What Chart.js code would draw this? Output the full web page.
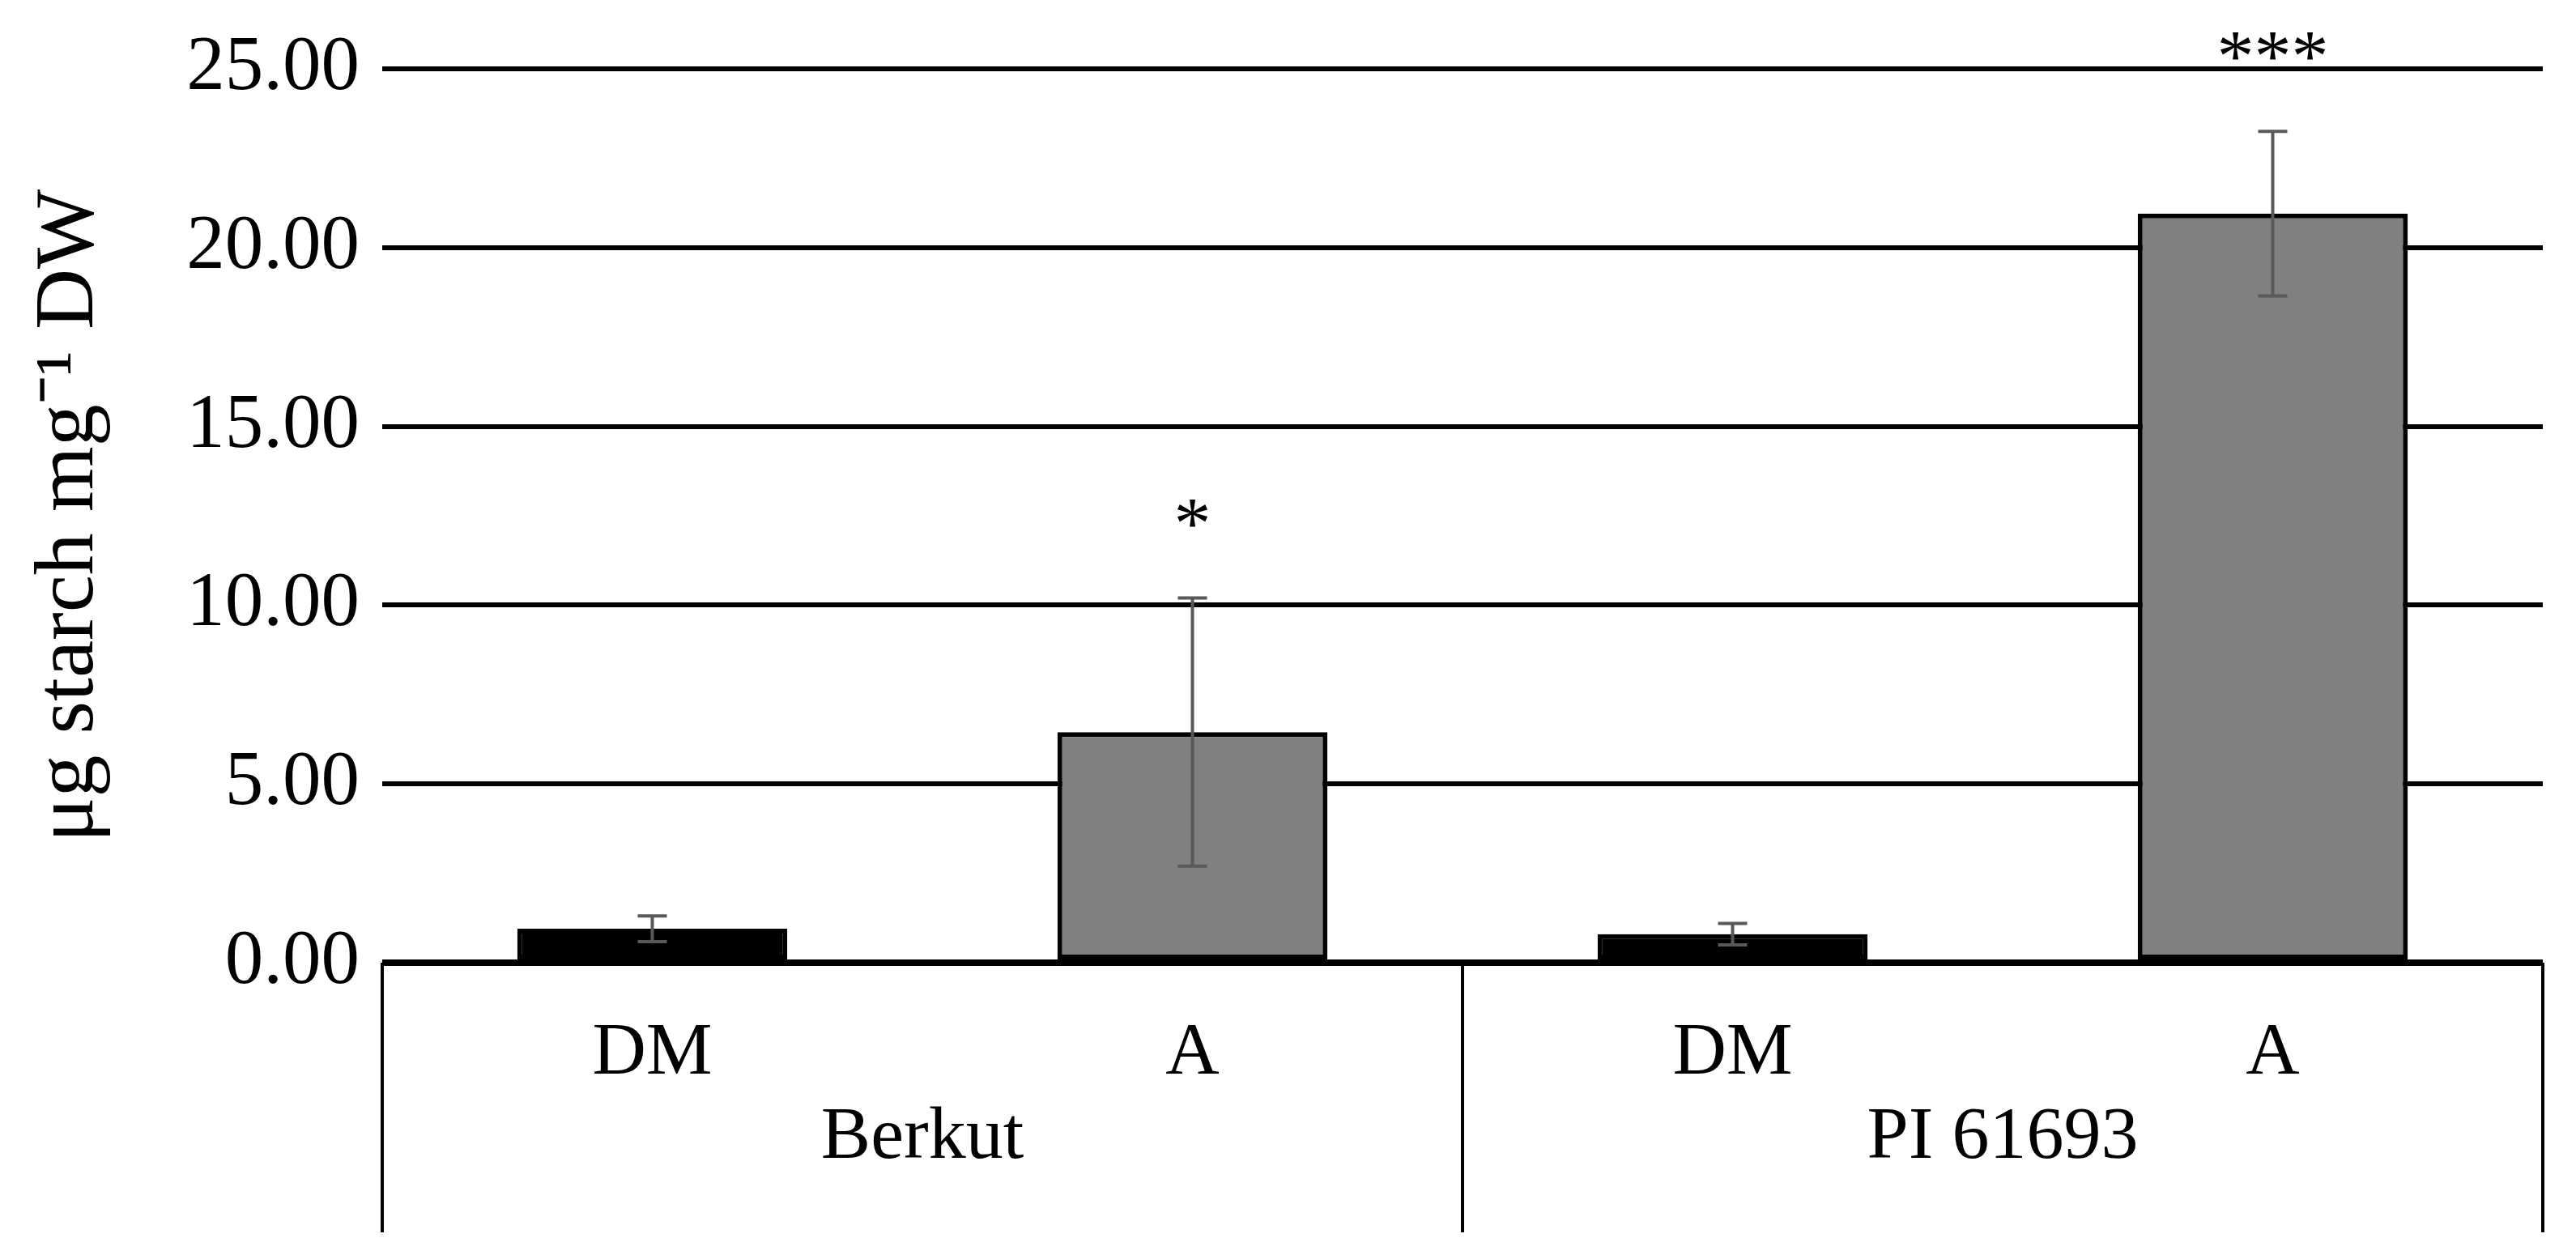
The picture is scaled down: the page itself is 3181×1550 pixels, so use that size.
<!DOCTYPE html>
<html>
<head>
<meta charset="utf-8">
<script src="https://cdn.jsdelivr.net/npm/chart.js@4"></script>
<style>
  body { margin: 0; background: #fff; }
  #wrap { width: 3181px; height: 1550px; }
</style>
</head>
<body>
<div id="wrap"><canvas id="starchChart"></canvas></div>
<script>
const treatments = ["DM", "A", "DM", "A"];
const genotypes = ["Berkut", "PI 61693"];
const starchMean = [0.95, 6.45, 0.80, 20.95];
const starchErr = [0.36, 3.75, 0.30, 2.30];
const significance = ["", "*", "", "***"];
const yTicks = [0, 5, 10, 15, 20, 25];

const serif = "'Liberation Serif', 'Times New Roman', serif";

// error bars + asterisks
const errorBars = {
  id: "errorBars",
  afterDatasetsDraw(chart) {
    const ctx = chart.ctx;
    const y = chart.scales.y;
    const meta = chart.getDatasetMeta(0);
    ctx.save();
    ctx.strokeStyle = "#595959";
    ctx.lineWidth = 4;
    meta.data.forEach((bar, i) => {
      const top = y.getPixelForValue(starchMean[i] + starchErr[i]);
      const bot = y.getPixelForValue(starchMean[i] - starchErr[i]);
      ctx.beginPath();
      ctx.moveTo(bar.x, top); ctx.lineTo(bar.x, bot);
      ctx.moveTo(bar.x - 18, top); ctx.lineTo(bar.x + 18, top);
      ctx.moveTo(bar.x - 18, bot); ctx.lineTo(bar.x + 18, bot);
      ctx.stroke();
      if (significance[i]) {
        ctx.fillStyle = "#000";
        ctx.font = "92px " + serif;
        ctx.textAlign = "center";
        ctx.textBaseline = "alphabetic";
        ctx.fillText(significance[i], bar.x, top - 62);
      }
    });
    ctx.restore();
  }
};

// multi-level category box under the plot
const groupAxis = {
  id: "groupAxis",
  afterDraw(chart) {
    const ctx = chart.ctx;
    const x = chart.scales.x;
    const area = chart.chartArea;
    const step = (x.right - x.left) / treatments.length;
    const perGroup = treatments.length / genotypes.length;
    ctx.save();
    ctx.strokeStyle = "#000";
    ctx.lineWidth = 4;
    for (let g = 0; g <= genotypes.length; g++) {
      const px = x.left + g * perGroup * step;
      ctx.beginPath();
      ctx.moveTo(px, area.bottom);
      ctx.lineTo(px, x.bottom);
      ctx.stroke();
    }
    ctx.fillStyle = "#000";
    ctx.font = "92px " + serif;
    ctx.textAlign = "center";
    ctx.textBaseline = "middle";
    genotypes.forEach((name, g) => {
      const cx = x.left + (g + 0.5) * perGroup * step;
      ctx.fillText(name, cx, area.bottom + 217);
    });
    ctx.restore();
  }
};

new Chart(document.getElementById("starchChart"), {
  type: "bar",
  data: {
    labels: treatments,
    datasets: [{
      data: starchMean,
      backgroundColor: treatments.map(t => t === "DM" ? "#000000" : "#808080"),
      borderColor: "#000",
      borderWidth: 6,
      borderSkipped: false,
      barPercentage: 0.5,
      categoryPercentage: 1.0
    }]
  },
  options: {
    responsive: true,
    maintainAspectRatio: false,
    animation: false,
    layout: { padding: { top: 32, right: 41, bottom: 28, left: 0 } },
    plugins: { legend: { display: false }, tooltip: { enabled: false } },
    scales: {
      x: {
        afterFit(s) { s.height = 333; },
        grid: { display: false },
        border: { display: false },
        ticks: {
          color: "#000",
          font: { family: serif, size: 92 },
          padding: 50,
          maxRotation: 0
        }
      },
      y: {
        min: 0,
        max: 25,
        afterFit(s) { s.width = 472; },
        afterBuildTicks(s) { s.ticks = yTicks.map(v => ({ value: v })); },
        grid: {
          color: "#000",
          lineWidth: c => c.tick && c.tick.value === 0 ? 8 : 6,
          drawTicks: false
        },
        border: { display: false },
        ticks: {
          color: "#000",
          font: { family: serif, size: 95 },
          padding: 28,
          callback: v => v.toFixed(2)
        },
        title: {
          display: true,
          text: "μg starch mg⁻¹ DW",
          color: "#000",
          font: { family: serif, size: 104 },
          padding: { top: 24, bottom: 0 }
        }
      }
    }
  },
  plugins: [errorBars, groupAxis]
});
</script>
</body>
</html>
